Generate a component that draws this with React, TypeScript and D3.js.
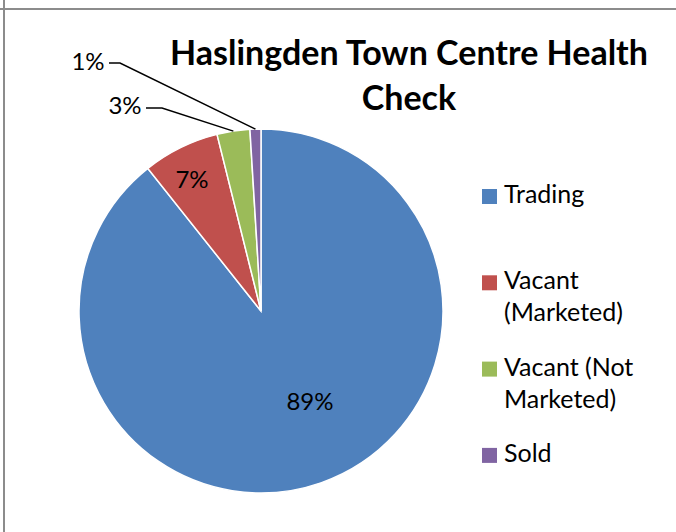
import React from "react";
import * as d3 from "d3";

const categories = ["Trading", "Vacant (Marketed)", "Vacant (Not Marketed)", "Sold"];
const values = [92, 7, 3, 1];
const colors = ["#4F81BD", "#C0504D", "#9BBB59", "#8064A2"];
const legendLines = [["Trading"], ["Vacant", "(Marketed)"], ["Vacant (Not", "Marketed)"], ["Sold"]];
const titleLines = ["Haslingden Town Centre Health", "Check"];

const W = 676;
const H = 532;
const cx = 261;
const cy = 311;
const R = 182;
const FONT = "Lato, 'Open Sans', sans-serif";

export default function App() {
  const total = d3.sum(values);
  const pie = d3.pie<number>().sort(null).value((d) => d)(values);
  const arc = d3.arc<d3.PieArcDatum<number>>().innerRadius(0).outerRadius(R);
  const pct = (v: number) => `${Math.round((v / total) * 100)}%`;

  const inside: Record<number, [number, number]> = { 0: [310, 400], 1: [192, 178] };
  const outside: Record<number, { tx: number; ty: number; bend: number; by: number }> = {
    2: { tx: 125, ty: 104, bend: 162, by: 108 },
    3: { tx: 88, ty: 60, bend: 120, by: 63 },
  };

  return (
    <svg width={W} height={H} style={{ position: "absolute", left: 0, top: 0, background: "#fff" }}>
      <rect x={0} y={0} width={W} height={H} fill="#fff" />
      <line x1={0} x2={W} y1={9} y2={9} stroke="#8c8c8c" strokeWidth={2} />
      <line x1={4} x2={4} y1={0} y2={H} stroke="#8c8c8c" strokeWidth={2} />
      <g transform={`translate(${cx},${cy})`}>
        {pie.map((p, i) => (
          <path key={categories[i]} d={arc(p) || ""} fill={colors[i]} stroke="#fff" strokeWidth={1.5} />
        ))}
      </g>
      {pie.map((p, i) => {
        if (inside[i]) {
          const [x, y] = inside[i];
          return (
            <text key={i} x={x} y={y} textAnchor="middle" dominantBaseline="central" fontFamily={FONT} fontSize={24} fill="#000">
              {pct(values[i])}
            </text>
          );
        }
        const o = outside[i];
        const mid = (p.startAngle + p.endAngle) / 2;
        const ex = cx + Math.sin(mid) * R;
        const ey = cy - Math.cos(mid) * R;
        return (
          <g key={i}>
            <polyline
              points={`${o.tx + 21},${o.by} ${o.bend},${o.by} ${ex},${ey}`}
              fill="none"
              stroke="#000"
              strokeWidth={1.5}
            />
            <text x={o.tx} y={o.ty} textAnchor="middle" dominantBaseline="central" fontFamily={FONT} fontSize={24} fill="#000">
              {pct(values[i])}
            </text>
          </g>
        );
      })}
      {titleLines.map((t, i) => (
        <text key={t} x={409} y={65 + i * 45} textAnchor="middle" fontFamily={FONT} fontWeight="bold" fontSize={34} fill="#000">
          {t}
        </text>
      ))}
      {categories.map((c, i) => {
        const top = 189 + i * 86.3;
        return (
          <g key={c}>
            <rect x={482} y={top} width={15} height={15} fill={colors[i]} />
            {legendLines[i].map((l, j) => (
              <text key={l} x={504} y={top + 14 + j * 32} fontFamily={FONT} fontSize={25} fill="#000">
                {l}
              </text>
            ))}
          </g>
        );
      })}
    </svg>
  );
}
